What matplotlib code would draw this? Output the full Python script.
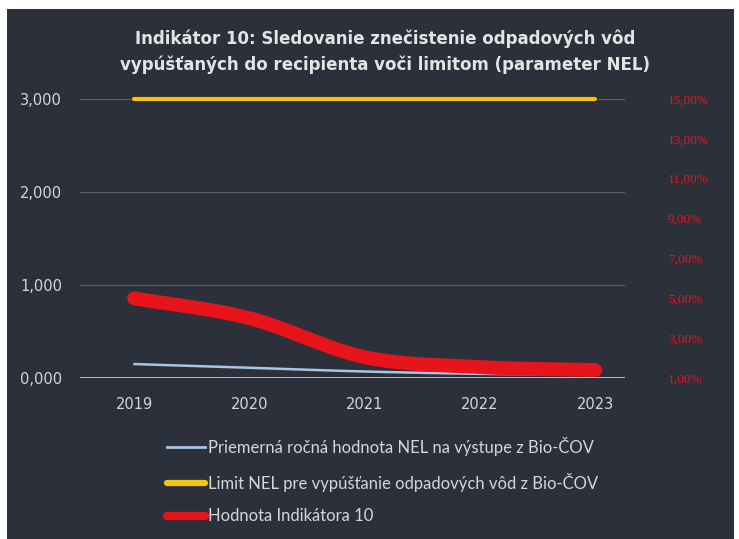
import numpy as np
import matplotlib
matplotlib.use("Agg")
import matplotlib.pyplot as plt
from matplotlib.patches import Rectangle
from matplotlib.lines import Line2D
import matplotlib.patheffects as pe

years = ["2019", "2020", "2021", "2022", "2023"]
nel_avg = [150, 110, 70, 45, 35]          # left axis
nel_limit = [3000, 3000, 3000, 3000, 3000]  # left axis
indicator = [5.0, 4.0, 2.05, 1.55, 1.4]    # right axis, %

left_ticks = [0, 1000, 2000, 3000]
left_labels = ["0,000", "1,000", "2,000", "3,000"]
right_ticks = [1, 3, 5, 7, 9, 11, 13, 15]
right_labels = ["1,00%", "3,00%", "5,00%", "7,00%", "9,00%", "11,00%", "13,00%", "15,00%"]

title = "Indikátor 10: Sledovanie znečistenie odpadových vôd\nvypúšťaných do recipienta voči limitom (parameter NEL)"
labels = ["Priemerná ročná hodnota NEL na výstupe z Bio-ČOV",
          "Limit NEL pre vypúšťanie odpadových vôd z Bio-ČOV",
          "Hodnota Indikátora 10"]

BG = "#2c303a"
TXT = "#d6d6d6"
BLUE = "#a8c6e6"
YEL = "#f0c419"
RED = "#e8141c"


def smooth(x, y, n=30):
    x = np.asarray(x, float); y = np.asarray(y, float)
    px = np.concatenate([[2 * x[0] - x[1]], x, [2 * x[-1] - x[-2]]])
    py = np.concatenate([[2 * y[0] - y[1]], y, [2 * y[-1] - y[-2]]])
    xs, ys = [], []
    for i in range(1, len(px) - 2):
        t = np.linspace(0, 1, n, endpoint=False)
        f = lambda a0, a1, a2, a3: 0.5 * ((2 * a1) + (-a0 + a2) * t + (2 * a0 - 5 * a1 + 4 * a2 - a3) * t ** 2 + (-a0 + 3 * a1 - 3 * a2 + a3) * t ** 3)
        xs.append(f(px[i - 1], px[i], px[i + 1], px[i + 2]))
        ys.append(f(py[i - 1], py[i], py[i + 1], py[i + 2]))
    xs.append([x[-1]]); ys.append([y[-1]])
    return np.concatenate(xs), np.concatenate(ys)


fig = plt.figure(figsize=(7.39, 5.39), dpi=100, facecolor="white")
fig.patches.append(Rectangle((7 / 739, 0), 727 / 739, 530 / 539, transform=fig.transFigure,
                             facecolor=BG, edgecolor="none", zorder=-10))

ax = fig.add_axes([80 / 739, 1 - 378 / 539, 545 / 739, 279 / 539])
ax.set_facecolor("none")
ax2 = ax.twinx()
ax2.set_facecolor("none")

x = np.arange(len(years))
ax.set_xlim(-0.47, 4.26)
ax.set_ylim(0, 3000)
ax2.set_ylim(1, 15)

for s in list(ax.spines.values()) + list(ax2.spines.values()):
    s.set_visible(False)

for v in left_ticks[1:]:
    ax.axhline(v, color="#5b5f68", lw=0.9, zorder=0)
ax.axhline(0, color="#c8c8c8", lw=1.3, zorder=1)

ax.set_yticks(left_ticks)
ax.set_yticklabels(left_labels)
ax.tick_params(axis="y", length=0, labelsize=10.5, labelcolor=TXT, pad=13)
ax.set_xticks(x)
ax.set_xticklabels(years)
ax.tick_params(axis="x", length=0, labelsize=10.5, labelcolor=TXT, pad=14)

ax2.set_yticks(right_ticks)
ax2.set_yticklabels(right_labels)
ax2.tick_params(axis="y", length=0, labelsize=9.5, labelcolor=RED, pad=31)
for t in ax2.get_yticklabels():
    t.set_fontfamily("Liberation Serif")

bx, by = smooth(x, nel_avg)
ax.plot(bx, by, color=BLUE, lw=1.8, solid_capstyle="round", zorder=3)
ax.plot(x, nel_limit, color=YEL, lw=3, solid_capstyle="round", zorder=3, clip_on=False,
        path_effects=[pe.Stroke(linewidth=4.2, foreground="#3a2a10"), pe.Normal()])
rx, ry = smooth(x, indicator)
ax2.plot(rx, ry, color=RED, lw=10, solid_capstyle="round", zorder=4)

handles = [Line2D([], [], color=BLUE, lw=2),
           Line2D([], [], color=YEL, lw=4.5, solid_capstyle="round"),
           Line2D([], [], color=RED, lw=6, solid_capstyle="round")]
leg = fig.legend(handles, labels, loc="upper left", bbox_to_anchor=(152 / 739, 1 - 422 / 539),
                 frameon=False, handlelength=2.3, handletextpad=0.15, labelspacing=1.0,
                 prop={"family": "Lato", "size": 12})
for t in leg.get_texts():
    t.set_color(TXT)

fig.text(385 / 739, 1 - 52 / 539, title, ha="center", va="center", color="#e4e4e4",
         fontsize=12, fontweight="bold", linespacing=1.5)

fig.savefig("out.png", dpi=100, facecolor="white")
